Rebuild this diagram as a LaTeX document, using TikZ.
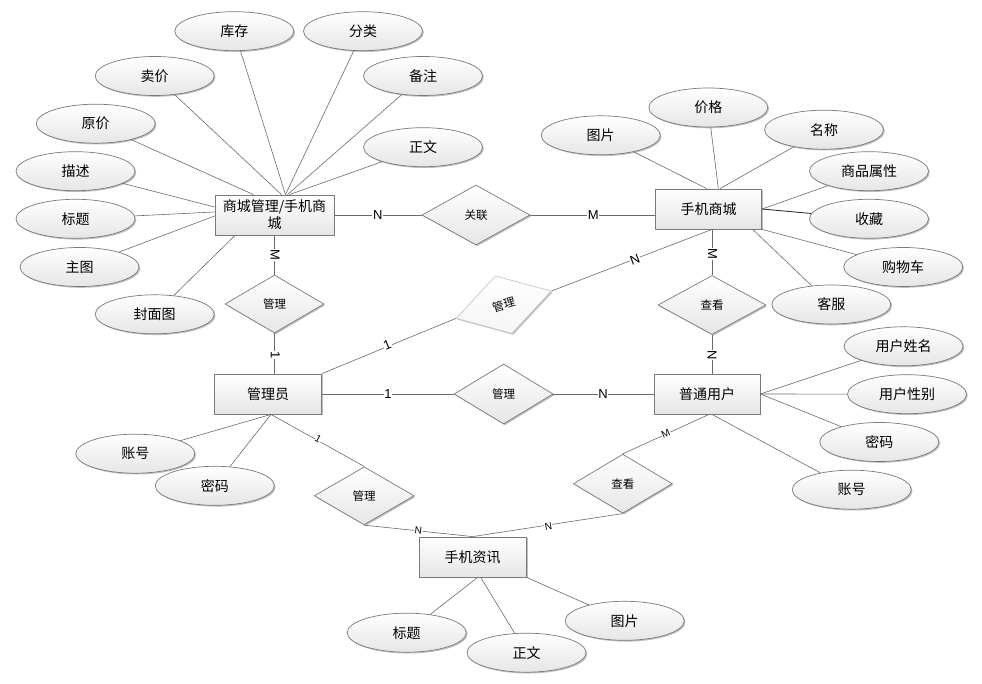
\documentclass[tikz,border=0pt]{standalone}
\usepackage{fontspec}
\setmainfont{Noto Sans CJK SC}
\newfontfamily\lab{Liberation Sans}
\usetikzlibrary{shapes.geometric,shadows}
\definecolor{bd}{HTML}{7A7A7A}
\definecolor{ln}{HTML}{6A6A6A}
\definecolor{shb}{HTML}{E6E6E6}
\begin{document}
\begin{tikzpicture}[x=1pt,y=-1pt,
  myshadow/.style={drop shadow={shadow xshift=1.3pt,shadow yshift=-1.3pt,opacity=0.25,fill=black}},
  attr/.style={ellipse,draw=bd,line width=0.7pt,top color=white,bottom color=shb,
    minimum width=119pt,minimum height=39pt,inner sep=0pt,
    font=\fontsize{14}{16}\selectfont,myshadow},
  ent/.style={rectangle,draw=bd,line width=0.8pt,top color=white,bottom color=shb,
    minimum height=40pt,inner sep=2pt,font=\fontsize{14}{17}\selectfont,myshadow},
  rel/.style={diamond,draw=bd,line width=0.7pt,top color=white,bottom color=shb,
    minimum width=99pt,minimum height=59pt,inner sep=0pt,
    font=\fontsize{11.5}{13}\selectfont,myshadow},
  conn/.style={draw=ln,line width=0.6pt},
  lbl/.style={fill=white,inner sep=0.6pt,font=\lab\fontsize{13}{13}\selectfont},
  slbl/.style={fill=white,inner sep=0.4pt,font=\lab\fontsize{10}{10}\selectfont}]
\useasboundingbox (0,0) rectangle (982,684);

% entities
\node[ent,minimum width=119pt,align=center] (sc) at (274.5,215) {商城管理/手机商\\城};
\node[ent,minimum width=106pt] (sj) at (708.7,209) {手机商城};
\node[ent,minimum width=107pt] (gly) at (268,394) {管理员};
\node[ent,minimum width=106pt] (pt) at (707,394) {普通用户};
\node[ent,minimum width=107pt] (zx) at (472.7,557) {手机资讯};

% relationships
\node[rel,minimum width=108pt,minimum height=60pt] (gl) at (476,215) {关联};
\node[rel,minimum height=58pt] (gm1) at (274.5,304) {管理};
\node[rel,minimum width=108pt] (ck1) at (712,305) {查看};
\node[rel,minimum height=60pt] (gm2) at (503.6,394) {管理};
\node[rel,draw=gray!45,top color=white,bottom color=gray!8,rotate=16,minimum height=60pt] (gm3) at (503.7,304.7) {管理};
\node[rel,minimum width=100pt,minimum height=58pt] (gm4) at (364.2,495.8) {管理};
\node[rel] (ck2) at (622.8,483.7) {查看};

% attributes of 商城管理/手机商城
\node[attr] (a1) at (234.3,31.2) {库存};
\node[attr] (a2) at (363,31.2) {分类};
\node[attr] (a3) at (154.7,76) {卖价};
\node[attr] (a4) at (423,76) {备注};
\node[attr] (a5) at (95.7,123.7) {原价};
\node[attr] (a6) at (423,147.2) {正文};
\node[attr] (a7) at (75.5,171.2) {描述};
\node[attr] (a8) at (75.5,218.8) {标题};
\node[attr] (a9) at (79.5,267) {主图};
\node[attr] (a10) at (154.7,314.3) {封面图};

% attributes of 手机商城
\node[attr] (b1) at (600.7,135.3) {图片};
\node[attr] (b2) at (708.3,107.5) {价格};
\node[attr] (b3) at (824,129.7) {名称};
\node[attr] (b4) at (869,171.2) {商品属性};
\node[attr] (b5) at (869,218.8) {收藏};
\node[attr] (b6) at (903.2,267) {购物车};
\node[attr] (b7) at (831.3,304.5) {客服};

% attributes of 普通用户
\node[attr] (c1) at (903.5,346.3) {用户姓名};
\node[attr] (c2) at (907,394.2) {用户性别};
\node[attr] (c3) at (879.3,442) {密码};
\node[attr] (c4) at (851.7,489.7) {账号};

% attributes of 管理员
\node[attr] (d1) at (135.3,453.7) {账号};
\node[attr] (d2) at (214.8,485.8) {密码};

% attributes of 手机资讯
\node[attr] (e1) at (406.7,632.7) {标题};
\node[attr] (e2) at (526.5,652.7) {正文};
\node[attr] (e3) at (624.7,620.8) {图片};

% attribute connectors
\path[conn] (a1) -- ([xshift=11pt]sc.north);
\path[conn] (a2) -- ([xshift=11pt]sc.north);
\path[conn] (a3) -- ([xshift=7pt]sc.north);
\path[conn] (a4) -- ([xshift=13pt]sc.north);
\path[conn] (a5) -- ([xshift=-21pt]sc.north);
\path[conn] (a6) -- ([xshift=15pt]sc.north);
\path[conn] (a7) -- ([yshift=8pt]sc.west);
\path[conn] (a8) -- ([yshift=3pt]sc.west);
\path[conn] (a9) -- ([yshift=-1pt]sc.west);
\path[conn] (a10) -- ([xshift=-39.5pt]sc.south);

\path[conn] (b1) -- ([xshift=-2pt]sj.north);
\path[conn] (b2) -- ([xshift=9.6pt]sj.north);
\path[conn] (b3) -- ([xshift=11.3pt]sj.north);
\path[conn] (b4) -- (sj.east);
\path[conn,draw=black!80,line width=0.9pt] (b5) -- (sj.east);
\path[conn] (b6) -- (sj.south east);
\path[conn] (b7) -- ([xshift=44pt]sj.south);

\path[conn] (c1) -- (pt.east);
\path[conn] (c2) -- (pt.east);
\path[conn] (c3) -- (pt.east);
\path[conn] (c4) -- ([xshift=5pt]pt.south);

\path[conn] (d1) -- ([xshift=3pt]gly.south);
\path[conn] (d2) -- ([xshift=3pt]gly.south);

\path[conn] (e1) -- ([xshift=5pt]zx.south);
\path[conn] (e2) -- ([xshift=8pt]zx.south);
\path[conn] (e3) -- (zx.south east);

% relationship connectors
\path[conn] (sc.east) -- (gl.west);
\path[conn] (gl.east) -- (gl.east -| sj.west);
\path[conn] (gm1.north) -- (gm1.north |- sc.south);
\path[conn] (gm1.south) -- (gm1.south |- gly.north);
\path[conn] (gly.north east) -- (gm3.west);
\path[conn] (gm3.east) -- (ck1.north |- sj.south);
\path[conn] (ck1.north) -- (ck1.north |- sj.south);
\path[conn] (ck1.south) -- (ck1.south |- pt.north);
\path[conn] (gly.east) -- (gm2.west);
\path[conn] (gm2.east) -- (pt.west);
\path[conn] ([xshift=3pt]gly.south) -- (gm4.north);
\path[conn] (gm4.south) -- (zx.north);
\path[conn] ([xshift=2pt]pt.south) -- (ck2.north);
\path[conn] (ck2.south) -- (zx.north);

% cardinality labels
\node[lbl] (l1) at (377.7,215) {N};
\node[lbl] (l2) at (593.3,215) {M};
\node[lbl,rotate=-90] (l3) at (275,255) {M};
\node[lbl,rotate=-90] (l4) at (275.3,355) {1};
\node[lbl,rotate=-90] (l5) at (712.5,254) {M};
\node[lbl,rotate=-90] (l6) at (712,355) {N};
\node[lbl] (l7) at (388,394) {1};
\node[lbl] (l8) at (603,394) {N};
\node[lbl,rotate=22.8] (l9) at (387.3,345) {1};
\node[lbl,rotate=21] (l10) at (635,259.5) {N};
\node[slbl,rotate=-29.3] (l11) at (318.3,439.3) {1};
\node[slbl,rotate=-6.2] (l12) at (418.3,530.7) {N};
\node[slbl,rotate=8.9] (l13) at (548.3,526.7) {N};
\node[slbl,rotate=24.6] (l14) at (665.7,433.3) {M};
\end{tikzpicture}
\end{document}
